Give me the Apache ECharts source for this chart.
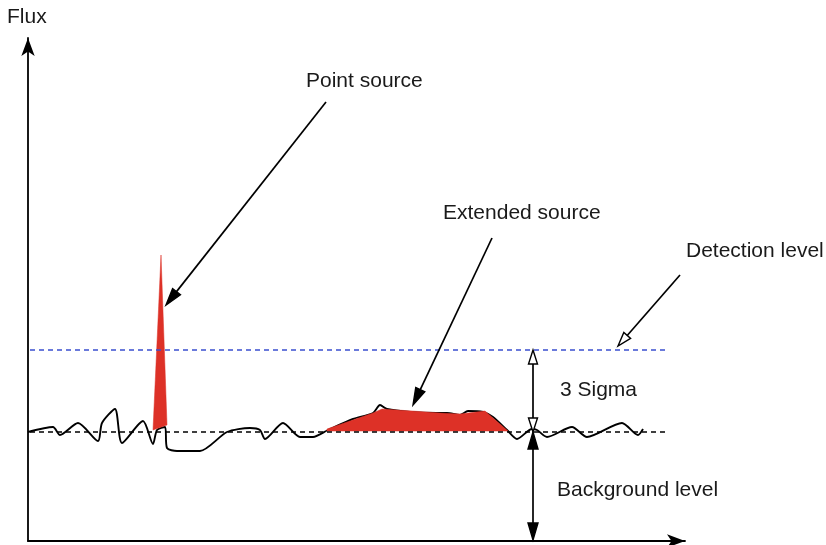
<!DOCTYPE html>
<html>
<head>
<meta charset="utf-8">
<script src="https://cdn.jsdelivr.net/npm/echarts@6/dist/echarts.min.js"></script>
<style>html,body{margin:0;padding:0;background:#fff}#c{width:826px;height:545px}</style>
</head>
<body>
<div id="c"></div>
<script>
// ---- data (position along the scan, flux) ----
const scanPosition = [0,25,32,50,70,74,87,94,115,125,129,137,139,149,172,199,222,232,237,255,272,285,300,325,345,352,359,382,409,419,432,440,455,465,479,489,504,509,519,544,559,594,610,615];
const scanFlux     = [108,113,105,117,99,117,131,97,119,96,110,113,92,89,89,108,112,110,101,117,103,103,110,121,127,135,131,128,127,127,125,129,128,123,110,101,111,110,103,113,103,117,105,111];

const backgroundLevel = 108;
const detectionLevel = 190;
const levelRange = [2, 637];

// point source (narrow spike) outline
const pointSourceX = [125, 133, 139];
const pointSourceY = [110, 285, 115];
// extended source outline
const extendedSourceX = [299, 345, 354, 384, 412, 432, 457, 480, 299];
const extendedSourceY = [111, 127, 131, 129, 127, 126, 129, 109, 109];

// annotation arrows: from -> to (data coords)
const arrowFrom = [[298,438],[464,302],[652,265],[505,190],[505,108]];
const arrowTo   = [[138,235],[385,135],[590,194],[505,108],[505,0]];
const arrowHeads = ['end','end','end','both','both'];
const arrowHollow = [false,false,true,true,false];

const labels = ['Flux','Point source','Extended source','Detection level','3 Sigma','Background level'];

// ---- chart ----
const chart = echarts.init(document.getElementById('c'), null, {renderer:'canvas'});

function poly(xs, ys, color){
  return {
    type:'custom', z:3, silent:true, clip:false,
    data:[[xs[0], ys[0]]],
    renderItem:function(params, api){
      const pts = xs.map((x,i)=>api.coord([x, ys[i]]));
      return {type:'polygon', shape:{points:pts}, style:{fill:color, stroke:color, lineWidth:0.5}};
    }
  };
}

function head(tip, from, len, w, hollow){
  const dx = tip[0]-from[0], dy = tip[1]-from[1];
  const L = Math.hypot(dx,dy); const ux = dx/L, uy = dy/L;
  const bx = tip[0]-ux*len, by = tip[1]-uy*len;
  const px = -uy, py = ux;
  return {
    el:{type:'polygon', shape:{points:[tip,[bx+px*w/2,by+py*w/2],[bx-px*w/2,by-py*w/2]]},
        style:{fill: hollow ? '#fff' : '#000', stroke:'#000', lineWidth:1.4, lineJoin:'miter'}},
    base:[bx,by]
  };
}

const arrowSeries = {
  type:'custom', z:6, silent:true, clip:false,
  data: arrowFrom.map((f,i)=>[f[0], f[1], i]),
  renderItem:function(params, api){
    const i = params.dataIndex;
    const a = api.coord(arrowFrom[i]);
    const b = api.coord(arrowTo[i]);
    const hollow = arrowHollow[i];
    const len = hollow ? 14 : 17, w = hollow ? 9 : 10;
    const children = [];
    let s = a, e = b;
    const he = head(b, a, len, w, hollow);
    e = he.base;
    if (arrowHeads[i] === 'both') {
      const hs = head(a, b, len, w, hollow);
      s = hs.base;
      children.push(hs.el);
    }
    children.unshift({type:'line', shape:{x1:s[0],y1:s[1],x2:e[0],y2:e[1]}, style:{stroke:'#000', lineWidth:1.7}});
    children.push(he.el);
    return {type:'group', children:children};
  }
};

const font = '"Liberation Sans", Arial, sans-serif';
const textPos = [[7,16],[306,80],[443,212],[686,250],[560,389],[557,489]];

chart.setOption({
  animation:false,
  backgroundColor:'#fff',
  grid:{left:28, right:141, top:38, bottom:4},
  xAxis:{type:'value', min:0, max:657, splitLine:{show:false}, axisTick:{show:false}, axisLabel:{show:false},
         axisLine:{show:true, onZero:false, lineStyle:{color:'#000', width:1.8}, symbol:['none','arrow'], symbolSize:[10,18]}},
  yAxis:{type:'value', min:-1, max:502, splitLine:{show:false}, axisTick:{show:false}, axisLabel:{show:false},
         axisLine:{show:true, onZero:false, lineStyle:{color:'#000', width:1.8}, symbol:['none','arrow'], symbolSize:[10,18]}},
  graphic: labels.map((t,i)=>({
    type:'text', left:textPos[i][0], top:textPos[i][1]-9, z:10,
    style:{text:t, font:'21px '+font, fill:'#1a1a1a'}
  })),
  series:[
    {type:'line', z:2, silent:true, smooth:0.25, showSymbol:false,
     data: scanPosition.map((x,i)=>[x, scanFlux[i]]),
     lineStyle:{color:'#000', width:1.9}},
    poly(pointSourceX, pointSourceY, '#dd3127'),
    poly(extendedSourceX, extendedSourceY, '#dd3127'),
    {type:'line', z:4, silent:true, showSymbol:false,
     data: levelRange.map(x=>[x, backgroundLevel]),
     lineStyle:{color:'#000', width:1.6, type:[5,4]}},
    {type:'line', z:4, silent:true, showSymbol:false,
     data: levelRange.map(x=>[x, detectionLevel]),
     lineStyle:{color:'#3a4fd0', width:1.4, type:[5,4]}},
    arrowSeries
  ]
});
</script>
</body>
</html>
